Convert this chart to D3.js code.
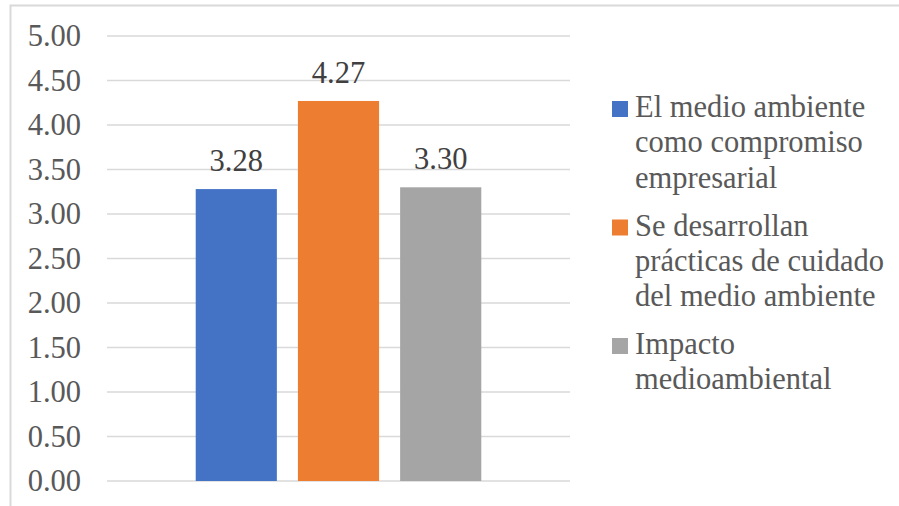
<!DOCTYPE html>
<html><head><meta charset="utf-8"><script src="https://cdn.jsdelivr.net/npm/d3@7/dist/d3.min.js"></script></head>
<body style="margin:0">
<svg id="chart" width="899" height="506"></svg>
<script>
// Series shown in the single category group
const seriesNames = [
  ["El medio ambiente", "como compromiso", "empresarial"],
  ["Se desarrollan", "prácticas de cuidado", "del medio ambiente"],
  ["Impacto", "medioambiental"]
];
const seriesKeys = ["s1", "s2", "s3"];
const seriesValues = [3.28, 4.27, 3.30];
const seriesColors = ["#4472c4", "#ed7d31", "#a5a5a5"];
const yTicks = [0, 0.5, 1, 1.5, 2, 2.5, 3, 3.5, 4, 4.5, 5];

const FONT = "Liberation Serif";
const svg = d3.select("#chart");
const fontSize = 30.5;
const textColor = "#595959";

// Outer chart frame
svg.append("rect")
  .attr("x", 10.5).attr("y", 5.5)
  .attr("width", 899).attr("height", 520)
  .attr("fill", "none")
  .attr("stroke", "#d9d9d9")
  .attr("stroke-width", 2);

const plot = { left: 107, right: 570, top: 36, bottom: 481 };

const y = d3.scaleLinear().domain([0, 5]).range([plot.bottom, plot.top]);
const x = d3.scaleBand()
  .domain(seriesKeys)
  .range([plot.left, plot.right])
  .paddingInner(0.206)
  .paddingOuter(0.868);

// Gridlines
svg.append("g")
  .selectAll("line")
  .data(yTicks)
  .join("line")
  .attr("x1", plot.left).attr("x2", plot.right)
  .attr("y1", d => y(d)).attr("y2", d => y(d))
  .attr("stroke", "#d9d9d9")
  .attr("stroke-width", 1.5);

// Y axis labels
svg.append("g")
  .selectAll("text")
  .data(yTicks)
  .join("text")
  .attr("x", 81)
  .attr("y", d => y(d))
  .attr("dy", "0.34em")
  .attr("text-anchor", "end")
  .attr("font-size", fontSize)
  .style("font-family", FONT)
  .attr("fill", textColor)
  .text(d => d3.format(".2f")(d));

// Bars
const data = seriesKeys.map((k, i) => ({ key: k, value: seriesValues[i], color: seriesColors[i] }));
svg.append("g")
  .selectAll("rect")
  .data(data)
  .join("rect")
  .attr("x", d => x(d.key))
  .attr("width", x.bandwidth())
  .attr("y", d => y(d.value))
  .attr("height", d => y(0) - y(d.value))
  .attr("fill", d => d.color);

// Value labels
svg.append("g")
  .selectAll("text")
  .data(data)
  .join("text")
  .attr("x", d => x(d.key) + x.bandwidth() / 2)
  .attr("y", d => y(d.value) - 18)
  .attr("text-anchor", "middle")
  .attr("font-size", fontSize)
  .style("font-family", FONT)
  .attr("fill", "#404040")
  .text(d => d3.format(".2f")(d.value));

// Legend
const lineH = 35.3;
const entryGap = 12.6;
let baseY = 117;
const legend = svg.append("g");
seriesNames.forEach((lines, i) => {
  legend.append("rect")
    .attr("x", 612).attr("y", baseY - 16)
    .attr("width", 16).attr("height", 16)
    .attr("fill", seriesColors[i]);
  lines.forEach((ln, j) => {
    legend.append("text")
      .attr("x", 635)
      .attr("y", baseY + j * lineH)
      .attr("font-size", fontSize)
      .style("font-family", FONT)
      .attr("fill", textColor)
      .text(ln);
  });
  baseY += lines.length * lineH + entryGap;
});
</script>
</body></html>
